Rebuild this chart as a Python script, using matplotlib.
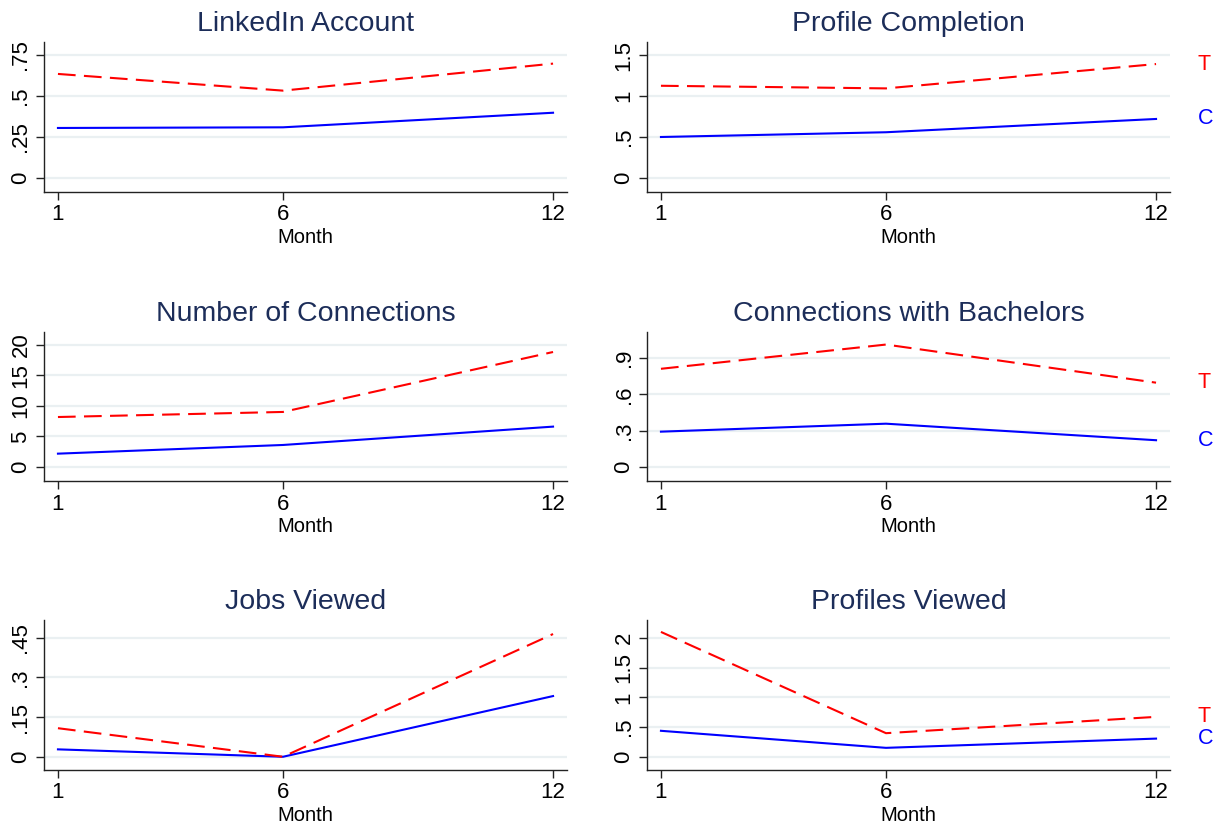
import numpy as np
import matplotlib
matplotlib.use("Agg")
import matplotlib.pyplot as plt

plt.rcParams["font.family"] = ["Liberation Sans", "DejaVu Sans"]

months = [1, 6, 12]

titles = ["LinkedIn Account", "Profile Completion",
          "Number of Connections", "Connections with Bachelors",
          "Jobs Viewed", "Profiles Viewed"]

# treatment (T) and control (C) means by month
treat = [
    [0.634, 0.532, 0.697],
    [1.125, 1.093, 1.39],
    [8.17, 9.0, 18.8],
    [0.812, 1.013, 0.697],
    [0.108, 0.0, 0.464],
    [2.10, 0.40, 0.674],
]
control = [
    [0.304, 0.308, 0.397],
    [0.50, 0.558, 0.72],
    [2.18, 3.6, 6.6],
    [0.291, 0.357, 0.22],
    [0.028, 0.0, 0.2295],
    [0.44, 0.154, 0.309],
]

yticks = [
    [0, 0.25, 0.5, 0.75],
    [0, 0.5, 1, 1.5],
    [0, 5, 10, 15, 20],
    [0, 0.3, 0.6, 0.9],
    [0, 0.15, 0.3, 0.45],
    [0, 0.5, 1, 1.5, 2],
]
ytick_labels = [
    ["0", ".25", ".5", ".75"],
    ["0", ".5", "1", "1.5"],
    ["0", "5", "10", "15", "20"],
    ["0", ".3", ".6", ".9"],
    ["0", ".15", ".3", ".45"],
    ["0", ".5", "1", "1.5", "2"],
]
ylims = [
    (-0.087, 0.829),
    (-0.171, 1.659),
    (-2.29, 22.07),
    (-0.118, 1.117),
    (-0.050, 0.517),
    (-0.218, 2.30),
]
show_tc = [False, True, False, True, False, True]

W, H = 1217, 825
fig = plt.figure(figsize=(W / 100, H / 100), dpi=100)

lefts = [44, 647]
rows = [(42, 192), (332, 481), (620, 770)]
width = 523

title_col = "#1c2d59"
grid_col = "#eaf0f2"
axis_col = "#222222"

for i in range(6):
    r, c = divmod(i, 2)
    top, bot = rows[r]
    ax = fig.add_axes([lefts[c] / W, 1 - bot / H, width / W, (bot - top) / H])

    ax.plot(months, control[i], color="#0000ff", lw=1.5, solid_joinstyle="miter")
    ax.plot(months, treat[i], color="#ff0000", lw=1.5, linestyle=(0, (8.5, 4)))

    ax.set_xlim(0.69, 12.31)
    ax.set_ylim(*ylims[i])
    ax.set_xticks(months)
    ax.set_xticklabels([str(m) for m in months])
    ax.set_yticks(yticks[i])
    ax.set_yticklabels(ytick_labels[i], rotation=90, va="center")

    for y in yticks[i]:
        ax.axhline(y, color=grid_col, lw=1.6, zorder=0)

    for s in ["top", "right"]:
        ax.spines[s].set_visible(False)
    for s in ["left", "bottom"]:
        ax.spines[s].set_color(axis_col)
        ax.spines[s].set_linewidth(1.0)
    ax.tick_params(axis="both", colors=axis_col, length=6, width=1.0,
                   labelsize=16, labelcolor="black", pad=3)

    ax.set_xlabel("Month", fontsize=14.5, labelpad=2)
    ax.set_title(titles[i], fontsize=20.5, color=title_col, pad=8)

    if show_tc[i]:
        ax.annotate("T", (12, treat[i][-1]), xytext=(30, 0),
                    textcoords="offset points", color="#ff0000",
                    fontsize=15.5, va="center", ha="left", annotation_clip=False)
        ax.annotate("C", (12, control[i][-1]), xytext=(30, 0),
                    textcoords="offset points", color="#0000ff",
                    fontsize=15.5, va="center", ha="left", annotation_clip=False)

fig.savefig("out.png", dpi=100, facecolor="white")
